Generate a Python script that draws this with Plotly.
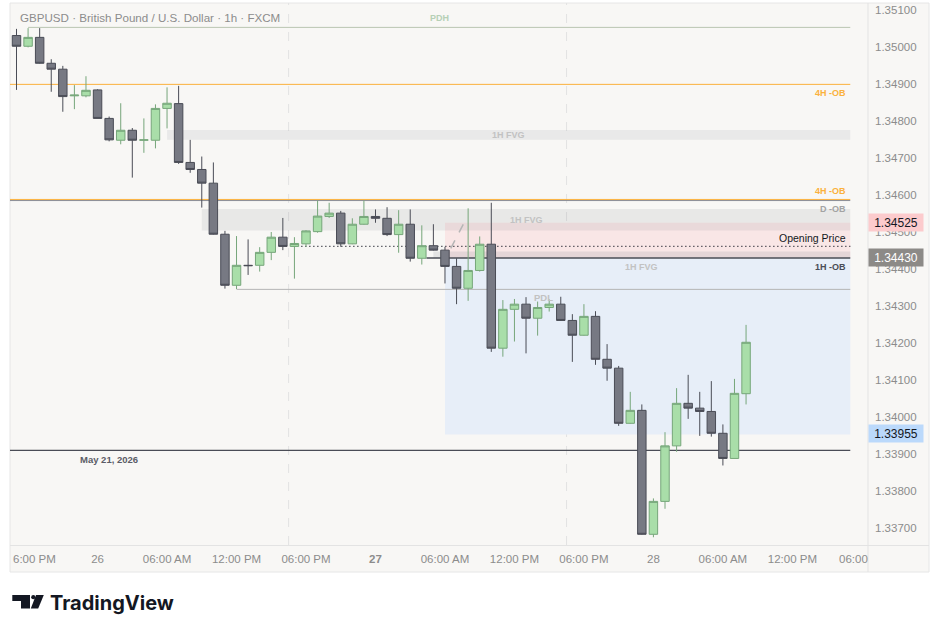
import plotly.graph_objects as go
from datetime import datetime, timedelta

# ---------------- data ----------------
start = datetime(2026, 5, 25, 17, 0)

opens = [1.35031, 1.35002, 1.35026, 1.34956, 1.34940, 1.34868, 1.34868, 1.34884,
         1.34807, 1.34748, 1.34775, 1.34748, 1.34748, 1.34834, 1.34847, 1.34688,
         1.34669, 1.34632, 1.34494, 1.34356, 1.34410, 1.34410, 1.34445, 1.34486,
         1.34461, 1.34468, 1.34501, 1.34542, 1.34551, 1.34468, 1.34521, 1.34542,
         1.34537, 1.34493, 1.34521, 1.34429, 1.34463, 1.34451, 1.34407, 1.34348,
         1.34396, 1.34467, 1.34186, 1.34291, 1.34305, 1.34267, 1.34296, 1.34305,
         1.34261, 1.34221, 1.34272, 1.34156, 1.34132, 1.33983, 1.34018, 1.33683,
         1.33772, 1.33922, 1.34037, 1.34024, 1.34015, 1.33956, 1.33888, 1.34063]
highs = [1.35049, 1.35051, 1.35051, 1.34967, 1.34949, 1.34897, 1.34921, 1.34886,
         1.34812, 1.34848, 1.34781, 1.34807, 1.34845, 1.34891, 1.34895, 1.34749,
         1.34704, 1.34688, 1.34503, 1.34489, 1.34480, 1.34459, 1.34500, 1.34538,
         1.34486, 1.34505, 1.34585, 1.34579, 1.34557, 1.34537, 1.34585, 1.34561,
         1.34567, 1.34559, 1.34561, 1.34518, 1.34521, 1.34460, 1.34429, 1.34564,
         1.34488, 1.34579, 1.34316, 1.34319, 1.34324, 1.34312, 1.34318, 1.34325,
         1.34278, 1.34305, 1.34286, 1.34197, 1.34138, 1.34068, 1.34034, 1.33780,
         1.33959, 1.34078, 1.34114, 1.34068, 1.34097, 1.33980, 1.34103, 1.34249]
lows = [1.34884, 1.34999, 1.34955, 1.34879, 1.34825, 1.34832, 1.34864, 1.34807,
        1.34745, 1.34737, 1.34647, 1.34714, 1.34726, 1.34780, 1.34684, 1.34660,
        1.34566, 1.34493, 1.34347, 1.34346, 1.34384, 1.34393, 1.34424, 1.34451,
        1.34374, 1.34460, 1.34498, 1.34538, 1.34460, 1.34467, 1.34520, 1.34525,
        1.34489, 1.34444, 1.34420, 1.34412, 1.34450, 1.34361, 1.34305, 1.34314,
        1.34393, 1.34176, 1.34163, 1.34204, 1.34172, 1.34220, 1.34285, 1.34260,
        1.34149, 1.34220, 1.34141, 1.34098, 1.33976, 1.33982, 1.33682, 1.33675,
        1.33752, 1.33906, 1.33995, 1.33949, 1.33947, 1.33869, 1.33888, 1.34034]
closes = [1.35002, 1.35026, 1.34956, 1.34940, 1.34866, 1.34870, 1.34883, 1.34807,
          1.34749, 1.34775, 1.34748, 1.34749, 1.34834, 1.34848, 1.34688, 1.34669,
          1.34632, 1.34494, 1.34356, 1.34410, 1.34409, 1.34445, 1.34486, 1.34461,
          1.34469, 1.34503, 1.34543, 1.34551, 1.34468, 1.34521, 1.34542, 1.34537,
          1.34493, 1.34521, 1.34429, 1.34463, 1.34451, 1.34407, 1.34348, 1.34396,
          1.34467, 1.34186, 1.34291, 1.34305, 1.34267, 1.34296, 1.34305, 1.34261,
          1.34221, 1.34272, 1.34156, 1.34132, 1.33983, 1.34018, 1.33683, 1.33772,
          1.33922, 1.34037, 1.34024, 1.34015, 1.33956, 1.33888, 1.34064, 1.34202]

y_tick_values = [1.337, 1.338, 1.339, 1.340, 1.341, 1.342, 1.343, 1.344,
                 1.345, 1.346, 1.347, 1.348, 1.349, 1.350, 1.351]
y_tick_labels = [f"{v:.5f}" for v in y_tick_values]

x_tick_hours = [7, 13, 19, 25, 31, 37, 43, 49, 55, 61, 67]
x_tick_labels = ["26", "06:00 AM", "12:00 PM", "06:00 PM", "<b>27</b>", "06:00 AM",
                 "12:00 PM", "06:00 PM", "28", "06:00 AM", "12:00 PM"]

# levels / zones (price)
pdh = 1.35053
ob4h_upper = 1.34899
fvg_upper = (1.34749, 1.34776)
ob4h_lower = 1.34588
dob_line = 1.34585
dob_zone = (1.34504, 1.34562)
pink_zone = (1.34430, 1.34525)
fvg_lower = (1.34430, 1.34447)
ob1h = 1.34430
blue_zone = (1.33953, 1.34430)
open_price = 1.34461
pdl = 1.34345
may21 = 1.33910

price_tags = [("1.34525", 1.34525, "#fccbcd", "#131722"),
              ("1.34430", 1.34430, "#8c8a87", "#ffffff"),
              ("1.33955", 1.33955, "#bbd9fb", "#131722")]


def t(h):
    return start + timedelta(hours=h)


times = [t(i) for i in range(len(opens))]

# pixel -> paper helpers (plot area: x 10..868, y 3..545)
def px(x):
    return (x - 10) / 858.0


def py(y):
    return (545 - y) / 542.0


BG = "#f8f7f5"
FONT = "Liberation Sans"

fig = go.Figure()
fig.add_trace(go.Candlestick(
    x=times, open=opens, high=highs, low=lows, close=closes,
    increasing=dict(line=dict(color="#76a67a", width=1), fillcolor="#a9dea9"),
    decreasing=dict(line=dict(color="#4a4c56", width=1), fillcolor="#777983"),
    whiskerwidth=0, hoverinfo="skip", showlegend=False))

shapes = []
# chart frame & separators
shapes.append(dict(type="rect", xref="paper", yref="paper", x0=px(10), x1=px(929),
                   y0=py(572), y1=py(3), fillcolor=BG, line=dict(color="#e6e6e6", width=1),
                   layer="below"))
shapes.append(dict(type="line", xref="paper", yref="paper", x0=px(868), x1=px(868),
                   y0=py(572), y1=py(3), line=dict(color="#e3e3e3", width=1)))
shapes.append(dict(type="line", xref="paper", yref="paper", x0=px(10), x1=px(929),
                   y0=py(545.5), y1=py(545.5), line=dict(color="#e3e3e3", width=1)))
# session separators
for h in (23.5, 47.5):
    shapes.append(dict(type="line", xref="x", yref="paper", x0=t(h), x1=t(h), y0=0, y1=1,
                       line=dict(color="#e2e2e2", width=1, dash="dash"), layer="below"))

end = t(72)
# zones
shapes.append(dict(type="rect", xref="x", yref="y", x0=t(37), x1=end, y0=blue_zone[0], y1=blue_zone[1],
                   fillcolor="#e7eef8", line=dict(width=0), layer="below"))
shapes.append(dict(type="rect", xref="x", yref="y", x0=t(37), x1=end, y0=pink_zone[0], y1=pink_zone[1],
                   fillcolor="#f9e6e6", line=dict(width=0), layer="below"))
shapes.append(dict(type="rect", xref="x", yref="y", x0=t(13), x1=end, y0=fvg_upper[0], y1=fvg_upper[1],
                   fillcolor="rgba(120,123,134,0.11)", line=dict(width=0), layer="below"))
shapes.append(dict(type="rect", xref="x", yref="y", x0=t(16), x1=end, y0=dob_zone[0], y1=dob_zone[1],
                   fillcolor="rgba(120,123,134,0.12)", line=dict(width=0), layer="below"))
shapes.append(dict(type="rect", xref="x", yref="y", x0=t(36), x1=end, y0=fvg_lower[0], y1=fvg_lower[1],
                   fillcolor="rgba(120,123,134,0.16)", line=dict(width=0), layer="below"))
# level lines
def hline(x0, y, color, width=1, dash="solid"):
    shapes.append(dict(type="line", xref="x", yref="y", x0=x0, x1=end, y0=y, y1=y,
                       line=dict(color=color, width=width, dash=dash), layer="below"))

hline(t(1), pdh, "#b9c5b1")
hline(t(-2), ob4h_upper, "#fbb13c")
hline(t(-2), dob_line, "#8a8c94")
hline(t(-2), ob4h_lower, "#fbb13c")
hline(t(19), pdl, "#b4b4b4")
hline(t(35.4), ob1h, "#4a4c56", 1.5)
hline(t(24.6), open_price, "#131722", 1.2, "1px,3px")
hline(t(-2), may21, "#4a4c56", 1.2)
# small dashed drawing
shapes.append(dict(type="line", xref="x", yref="y", x0=t(37.5), x1=t(38.6), y0=1.34456, y1=1.34522,
                   line=dict(color="#b5b5b5", width=1.5, dash="dash")))

# TradingView logo icon
def poly(pts):
    d = "M " + " L ".join(f"{px(a)},{py(b)}" for a, b in pts) + " Z"
    return dict(type="path", xref="paper", yref="paper", path=d, fillcolor="#131722",
                line=dict(width=0))

shapes.append(poly([(12.3, 595), (30, 595), (30, 608.5), (21, 608.5), (21, 601), (12.3, 601)]))
shapes.append(poly([(36, 595), (43.8, 595), (38.2, 608.5), (30.8, 608.5)]))
shapes.append(dict(type="circle", xref="paper", yref="paper", x0=px(31.2), x1=px(35.4),
                   y0=py(599.3), y1=py(595.1), fillcolor="#131722", line=dict(width=0)))

ann = []
ann.append(dict(xref="paper", yref="paper", x=px(17.5), y=py(17.5), xanchor="left", yanchor="middle",
                text="GBPUSD · British Pound / U.S. Dollar · 1h · FXCM", showarrow=False,
                font=dict(family=FONT, size=11.6, color="#8c8c8c")))

def lab(x, y, text, color, size=9, xanchor="center", yshift=0, xref="x", bold=True):
    ann.append(dict(xref=xref, yref="y", x=x, y=y, xanchor=xanchor, yanchor="middle",
                    text=f"<b>{text}</b>" if bold else text, showarrow=False, yshift=yshift,
                    font=dict(family=FONT, size=size, color=color)))

R = px(847.5)
lab(t(36.5), pdh, "PDH", "#b6d0b6", yshift=9.5)
lab(R, ob4h_upper, "4H -OB", "#fbb13c", xanchor="right", yshift=-8.5, xref="paper")
lab(t(42.5), sum(fvg_upper) / 2, "1H FVG", "#c2c2c2")
lab(R, ob4h_lower, "4H -OB", "#fbb13c", xanchor="right", yshift=8, xref="paper")
lab(R, dob_line, "D -OB", "#a3a3a3", xanchor="right", yshift=-8.7, xref="paper")
lab(t(44), sum(dob_zone) / 2, "1H FVG", "#c2c2c2")
lab(R, open_price, "Opening Price", "#131722", size=10.5, xanchor="right", yshift=8.3,
    xref="paper", bold=False)
lab(R, ob1h, "1H -OB", "#4a4c56", xanchor="right", yshift=-9.4, xref="paper")
lab(t(54), ob1h, "1H FVG", "#c2c2c2", yshift=-9.4)
lab(t(45.5), pdl, "PDL", "#c2c2c2", size=9.5, yshift=-8.4)
lab(t(8), may21, "May 21, 2026", "#5a5c66", size=9.5, yshift=-8.7)

for txt, val, bg, fg in price_tags:
    ann.append(dict(xref="paper", yref="y", x=px(868.5), y=val, xanchor="left", yanchor="middle",
                    text=txt, showarrow=False, bgcolor=bg, width=52, height=15, borderpad=1,
                    font=dict(family=FONT, size=12, color=fg)))

# clipped edge time labels
ann.append(dict(xref="paper", yref="paper", x=px(10.5), y=py(558.5), xanchor="left", yanchor="middle",
                text="6:00 PM", showarrow=False, font=dict(family=FONT, size=11.5, color="#8c8c8c")))
ann.append(dict(xref="paper", yref="paper", x=px(836.5), y=py(558.5), xanchor="left", yanchor="middle",
                text="06:00", showarrow=False, font=dict(family=FONT, size=11.5, color="#8c8c8c")))

ann.append(dict(xref="paper", yref="paper", x=px(48), y=py(603), xanchor="left", yanchor="middle",
                text="<b>TradingView</b>", showarrow=False,
                font=dict(family="Inter", size=20, color="#131722")))

fig.update_layout(
    width=939, height=633,
    margin=dict(l=10, r=71, t=3, b=88),
    paper_bgcolor="#ffffff", plot_bgcolor=BG,
    shapes=shapes, annotations=ann,
    hovermode=False, dragmode=False, showlegend=False,
    boxgap=0.27, boxgroupgap=0,
    xaxis=dict(type="date", range=[t(-0.561), t(73.53)], rangeslider=dict(visible=False),
               showgrid=False, zeroline=False, showline=False, ticks="",
               tickvals=[t(h) for h in x_tick_hours], ticktext=x_tick_labels,
               ticklabelstandoff=5,
               tickfont=dict(family=FONT, size=11.5, color="#8c8c8c"), tickangle=0),
    yaxis=dict(side="right", range=[1.336541, 1.351189], showgrid=False, zeroline=False,
               showline=False, ticks="", tickvals=y_tick_values, ticktext=y_tick_labels,
               ticklabelstandoff=6,
               tickfont=dict(family=FONT, size=11.5, color="#8c8c8c")),
)

fig.write_html("out.html", config=dict(displayModeBar=False, staticPlot=True))
